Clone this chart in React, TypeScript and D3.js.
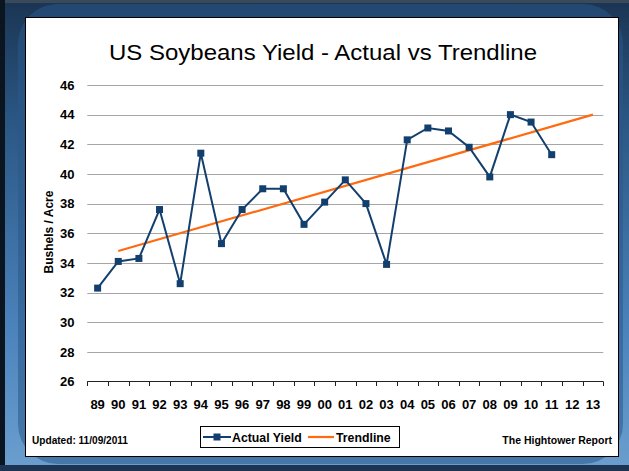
import React from "react";
import * as d3 from "d3";

const years = ["89","90","91","92","93","94","95","96","97","98","99","00","01","02","03","04","05","06","07","08","09","10","11","12","13"];
const actualYears = ["89","90","91","92","93","94","95","96","97","98","99","00","01","02","03","04","05","06","07","08","09","10","11"];
const actualYield = [32.3,34.1,34.3,37.6,32.6,41.4,35.3,37.6,39.0,39.0,36.6,38.1,39.6,38.0,33.9,42.3,43.1,42.9,41.8,39.8,44.0,43.5,41.3];
const trendYears = ["90","13"];
const trendValues = [34.8, 44.0];
const yTicks = [26,28,30,32,34,36,38,40,42,44,46];

const W = 629, H = 471;
const FONT = "'Liberation Sans', Arial, sans-serif";

export default function App() {
  const x = d3.scaleBand<string>().domain(years).range([87.3, 603.3]).padding(0);
  const cx = (k: string) => (x(k) as number) + x.bandwidth() / 2;
  const y = d3.scaleLinear().domain([26, 46]).range([381.5, 85]);

  const actualPts: [number, number][] = actualYears.map((k, i) => [cx(k), y(actualYield[i])]);
  const trendPts: [number, number][] = trendYears.map((k, i) => [cx(k), y(trendValues[i])]);
  const line = d3.line();

  const boundaries = years.map((k) => x(k) as number).concat([603.3]);

  return (
    <svg width={W} height={H} style={{ position: "absolute", left: 0, top: 0 }} fontFamily={FONT}>
      <defs>
        <linearGradient id="bg" x1="0" y1="0" x2="0" y2="1">
          <stop offset="0" stopColor="#1b3553" />
          <stop offset="0.25" stopColor="#2a5683" />
          <stop offset="0.7" stopColor="#4b83bb" />
          <stop offset="1" stopColor="#6c9fcf" />
        </linearGradient>
      </defs>
      <rect x={0} y={0} width={W} height={H} fill="url(#bg)" />
      <rect x={18} y={4} width={605} height={460} rx={40} fill="#2a578a" opacity={0.55} />
      <rect x={0} y={0} width={W} height={3} fill="#3a4a5a" />
      <rect x={0} y={0} width={5} height={H} fill="#0b1520" />
      <rect x={0} y={465} width={W} height={6} fill="#1d3552" />

      <rect x={25.5} y={17.5} width={593} height={439} fill="#ffffff" stroke="#000000" strokeWidth={1} />

      <text x={323} y={60} textAnchor="middle" fontSize={22} textLength={428} lengthAdjust="spacingAndGlyphs" fill="#000">US Soybeans Yield - Actual vs Trendline</text>

      {yTicks.map((t) => (
        <g key={t}>
          {t !== 26 && (
            <line x1={87.3} x2={603.3} y1={Math.round(y(t)) + 0.5} y2={Math.round(y(t)) + 0.5} stroke="#a6a6a6" strokeWidth={1} />
          )}
          <text x={74.5} y={y(t) + 4.8} textAnchor="end" fontSize={13} fontWeight="bold" fill="#000">{t}</text>
        </g>
      ))}

      <line x1={87.3} x2={603.3} y1={381.5} y2={381.5} stroke="#222" strokeWidth={1} />
      {boundaries.map((b, i) => (
        <line key={i} x1={Math.round(b) + 0.5} x2={Math.round(b) + 0.5} y1={381.5} y2={386} stroke="#222" strokeWidth={1} />
      ))}
      {years.map((k) => (
        <text key={k} x={cx(k)} y={409} textAnchor="middle" fontSize={13} fontWeight="bold" fill="#000">{k}</text>
      ))}

      <text transform="translate(52.5,232) rotate(-90)" textAnchor="middle" fontSize={12} fontWeight="bold" fill="#000">Bushels / Acre</text>

      <path d={line(trendPts) || ""} fill="none" stroke="#ff6a10" strokeWidth={2.2} />
      <path d={line(actualPts) || ""} fill="none" stroke="#123f6e" strokeWidth={2} />
      {actualPts.map((p, i) => (
        <rect key={i} x={p[0] - 3.5} y={p[1] - 3.5} width={7} height={7} fill="#123f6e" />
      ))}

      <text x={32} y={444} fontSize={10} textLength={96} lengthAdjust="spacingAndGlyphs" fontWeight="bold" fill="#000">Updated: 11/09/2011</text>
      <text x={612} y={443.5} textAnchor="end" fontSize={10.5} fontWeight="bold" fill="#000">The Hightower Report</text>

      <rect x={200.5} y={426.5} width={199} height={21} fill="#fff" stroke="#000" strokeWidth={1} />
      <line x1={203} x2={231} y1={437} y2={437} stroke="#123f6e" strokeWidth={2} />
      <rect x={213.5} y={433.5} width={7} height={7} fill="#123f6e" />
      <text x={232} y={441.5} fontSize={12.3} fontWeight="bold" fill="#000">Actual Yield</text>
      <line x1={308} x2={334} y1={437} y2={437} stroke="#ff6a10" strokeWidth={2.2} />
      <text x={336} y={441.5} fontSize={12.3} fontWeight="bold" fill="#000">Trendline</text>
    </svg>
  );
}
